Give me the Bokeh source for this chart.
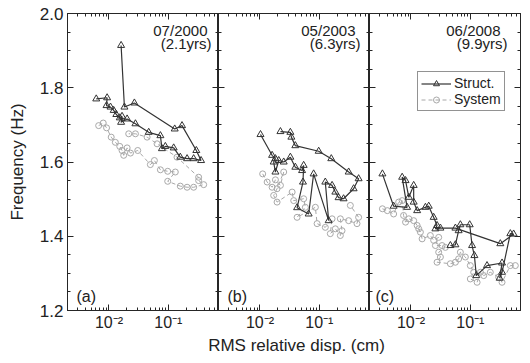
from bokeh.plotting import figure
from bokeh.layouts import row, column
from bokeh.models import (LogAxis, LinearAxis, FixedTicker, Label, Legend,
                          LegendItem, Range1d, PrintfTickFormatter,
                          CustomJSTickFormatter)
from bokeh.embed import file_html
from bokeh.resources import INLINE

# ---------------- data ----------------
# (a) 07/2000
struct_a_disp = [0.0160, 0.0182, 0.0268, 0.128, 0.170, 0.296, 0.356, 0.267, 0.207, 0.159,
                 0.123, 0.089, 0.078, 0.0735, 0.0467, 0.0279, 0.0202, 0.0160, 0.0166, 0.0152,
                 0.0133, 0.0120, 0.0106, 0.0091, 0.0093, 0.0061]
struct_a_freq = [1.914, 1.748, 1.759, 1.689, 1.698, 1.631, 1.604, 1.609, 1.609, 1.613,
                 1.638, 1.642, 1.636, 1.671, 1.680, 1.703, 1.716, 1.707, 1.723, 1.719,
                 1.728, 1.739, 1.748, 1.752, 1.773, 1.770]
system_a_disp = [0.0067, 0.0080, 0.0091, 0.0109, 0.0128, 0.0152, 0.0166, 0.0177, 0.0202, 0.0230,
                 0.0305, 0.0498, 0.0582, 0.0735, 0.0975, 0.131, 0.0975, 0.159, 0.207, 0.267,
                 0.394, 0.324, 0.324, 0.140, 0.0646, 0.0439, 0.0279, 0.0215]
system_a_freq = [1.698, 1.705, 1.692, 1.667, 1.653, 1.642, 1.631, 1.618, 1.638, 1.624,
                 1.631, 1.593, 1.604, 1.579, 1.575, 1.573, 1.548, 1.535, 1.532, 1.532,
                 1.539, 1.550, 1.559, 1.613, 1.649, 1.667, 1.676, 1.676]

# (b) 05/2003
struct_b_disp = [0.0102, 0.0160, 0.0182, 0.0170, 0.0182, 0.0207, 0.0251, 0.0325, 0.0394, 0.0512,
                 0.0544, 0.0530, 0.0422, 0.0661, 0.0801, 0.1435, 0.126, 0.164, 0.186, 0.211,
                 0.256, 0.378, 0.459, 0.312, 0.159, 0.0975, 0.0394, 0.0338, 0.0325, 0.0221]
struct_b_freq = [1.674, 1.618, 1.609, 1.600, 1.573, 1.604, 1.600, 1.613, 1.586, 1.577,
                 1.591, 1.546, 1.477, 1.460, 1.568, 1.442, 1.546, 1.537, 1.519, 1.504,
                 1.501, 1.528, 1.555, 1.573, 1.609, 1.629, 1.644, 1.667, 1.680, 1.682]
system_b_disp = [0.0111, 0.0132, 0.0160, 0.0182, 0.0221, 0.0251, 0.0194, 0.0170, 0.0194, 0.0348,
                 0.0370, 0.0544, 0.0582, 0.0422, 0.0857, 0.0917, 0.126, 0.164, 0.153, 0.186,
                 0.226, 0.241, 0.226, 0.312, 0.431, 0.459, 0.333]
system_b_freq = [1.568, 1.546, 1.532, 1.552, 1.537, 1.573, 1.528, 1.510, 1.492, 1.519,
                 1.496, 1.501, 1.478, 1.451, 1.478, 1.434, 1.424, 1.447, 1.407, 1.420,
                 1.402, 1.415, 1.447, 1.442, 1.434, 1.451, 1.483]

# (c) 06/2008
struct_c_disp = [0.0461, 0.0560, 0.0635, 0.0679, 0.0975, 0.107, 0.117, 0.126, 0.191, 0.342,
                 0.312, 0.342, 0.472, 0.536, 0.320, 0.0560, 0.0313, 0.0258, 0.0275, 0.0241,
                 0.0199, 0.0175, 0.0127, 0.0111, 0.0111, 0.0092, 0.0081, 0.0071, 0.0086, 0.0051,
                 0.0033]
struct_c_freq = [1.375, 1.377, 1.415, 1.431, 1.431, 1.375, 1.348, 1.294, 1.321, 1.328,
                 1.287, 1.303, 1.407, 1.406, 1.380, 1.422, 1.422, 1.420, 1.429, 1.451,
                 1.481, 1.478, 1.469, 1.492, 1.537, 1.505, 1.550, 1.559, 1.478, 1.481,
                 1.568]
system_c_disp = [0.0033, 0.0040, 0.0051, 0.0062, 0.0071, 0.0075, 0.0081, 0.0092, 0.0111, 0.0127,
                 0.0135, 0.0144, 0.0154, 0.0212, 0.0241, 0.0293, 0.0258, 0.0334, 0.0379, 0.0293,
                 0.0313, 0.0275, 0.0461, 0.0560, 0.0635, 0.0679, 0.0824, 0.100, 0.114, 0.100,
                 0.130, 0.148, 0.168, 0.217, 0.300, 0.342, 0.472, 0.573]
system_c_freq = [1.474, 1.469, 1.460, 1.492, 1.496, 1.456, 1.438, 1.447, 1.442, 1.429,
                 1.420, 1.411, 1.393, 1.402, 1.389, 1.397, 1.375, 1.375, 1.370, 1.357,
                 1.344, 1.330, 1.326, 1.330, 1.339, 1.357, 1.344, 1.321, 1.303, 1.285,
                 1.276, 1.303, 1.294, 1.303, 1.290, 1.276, 1.321, 1.321]

panel_dates = ["07/2000", "05/2003", "06/2008"]
panel_ages = ["(2.1yrs)", "(6.3yrs)", "(9.9yrs)"]
panel_tags = ["(a)", "(b)", "(c)"]

series_names = ["Struct.", "System"]
x_label = "RMS relative disp. (cm)"
y_label = "Frequency (Hz)"

x_tick_values = [0.01, 0.1]
x_tick_labels = ["10⁻²", "10⁻¹"]
x_minor_ticks = [m * 10.0 ** e for e in (-3, -2, -1) for m in range(2, 10)]
y_tick_values = [1.2, 1.4, 1.6, 1.8, 2.0]
y_minor_ticks = [1.25, 1.3, 1.35, 1.45, 1.5, 1.55, 1.65, 1.7, 1.75, 1.85, 1.9, 1.95]

# ---------------- style ----------------
FONT = "Liberation Sans"
AX = "#262626"
STRUCT_COLOR = "#333333"
SYSTEM_COLOR = "#a8a8a8"


def x_ticker():
    return FixedTicker(ticks=x_tick_values, minor_ticks=x_minor_ticks)


def y_ticker():
    return FixedTicker(ticks=y_tick_values, minor_ticks=y_minor_ticks)


def blank_fmt():
    return CustomJSTickFormatter(code="return '';")


def style_axis(ax, show_labels, size="16px"):
    ax.axis_line_color = AX
    ax.axis_line_width = 1
    ax.major_tick_line_color = AX
    ax.minor_tick_line_color = AX
    ax.major_tick_in = 6
    ax.major_tick_out = 0
    ax.minor_tick_in = 3
    ax.minor_tick_out = 0
    ax.major_label_text_font = FONT
    ax.major_label_text_color = "#222222"
    ax.axis_label_text_font = FONT
    ax.axis_label_text_font_style = "normal"
    ax.axis_label_text_font_size = "17px"
    ax.axis_label_text_color = "#222222"
    if show_labels:
        ax.major_label_text_font_size = size
    else:
        ax.formatter = blank_fmt()
        ax.major_label_text_font_size = "1px"
        ax.major_label_text_alpha = 0
        ax.major_label_standoff = 0


def x_fmt():
    return CustomJSTickFormatter(args=dict(vals=x_tick_values, labs=x_tick_labels), code="""
for (let i = 0; i < vals.length; i++) {
  if (Math.abs(Math.log10(tick) - Math.log10(vals[i])) < 1e-6) { return labs[i]; }
}
return "";
""")


# text placement (frame-relative screen px)
date_right = [140, 137, 131]
age_right = [144, 142, 138]
tag_left = [9, 9, 6]


def make_panel(i, sx, sy, yx, yy):
    p = figure(frame_width=151, frame_height=297, x_axis_type="log",
               x_range=Range1d(0.002, 0.7), y_range=Range1d(1.2, 2.0),
               output_backend="svg", toolbar_location=None,
               min_border_top=13, min_border_bottom=23,
               min_border_left=67 if i == 0 else 0,
               min_border_right=10 if i == 2 else 0,
               background_fill_color="white", border_fill_color="white")
    p.xgrid.visible = False
    p.ygrid.visible = False
    p.outline_line_color = AX

    xb = p.xaxis[0]
    xb.ticker = x_ticker()
    style_axis(xb, True, "16px")
    xb.formatter = x_fmt()
    xb.major_label_standoff = 3

    yl = p.yaxis[0]
    yl.ticker = y_ticker()
    if i == 0:
        style_axis(yl, True, "17px")
        yl.formatter = PrintfTickFormatter(format="%.1f")
        yl.major_label_standoff = 4
        yl.axis_label = y_label
        yl.axis_label_standoff = 10
    else:
        style_axis(yl, False)

    top = LogAxis(ticker=x_ticker())
    style_axis(top, False)
    p.add_layout(top, "above")
    right = LinearAxis(ticker=y_ticker())
    style_axis(right, False)
    p.add_layout(right, "right")

    l2 = p.line(yx, yy, line_color=SYSTEM_COLOR, line_width=1, line_dash="4 3")
    s2 = p.scatter(yx, yy, marker="circle", size=6, line_color=SYSTEM_COLOR,
                   fill_color=None, line_width=1)
    l1 = p.line(sx, sy, line_color=STRUCT_COLOR, line_width=1.2)
    s1 = p.scatter(sx, sy, marker="triangle", size=7, line_color=STRUCT_COLOR,
                   fill_color=None, line_width=1)

    p.add_layout(Label(x=date_right[i], y=289, x_units="screen", y_units="screen",
                       text=panel_dates[i], text_align="right", text_baseline="top",
                       text_font=FONT, text_font_size="15px", text_color="#222222"))
    p.add_layout(Label(x=age_right[i], y=276, x_units="screen", y_units="screen",
                       text=panel_ages[i], text_align="right", text_baseline="top",
                       text_font=FONT, text_font_size="15px", text_color="#222222"))
    p.add_layout(Label(x=tag_left[i], y=6, x_units="screen", y_units="screen",
                       text=panel_tags[i], text_align="left", text_baseline="bottom",
                       text_font=FONT, text_font_size="16px", text_color="#222222"))

    if i == 2:
        legend = Legend(items=[LegendItem(label=series_names[0], renderers=[l1, s1]),
                               LegendItem(label=series_names[1], renderers=[l2, s2])],
                        location=(48, 199))
        legend.label_text_font = FONT
        legend.label_text_font_size = "14px"
        legend.label_text_color = "#222222"
        legend.glyph_width = 30
        legend.glyph_height = 15
        legend.label_height = 15
        legend.label_standoff = 3
        legend.padding = 3
        legend.spacing = 0
        legend.margin = 0
        legend.border_line_color = AX
        legend.border_line_width = 1
        legend.background_fill_alpha = 1
        p.add_layout(legend)
    return p


pa = make_panel(0, struct_a_disp, struct_a_freq, system_a_disp, system_a_freq)
pb = make_panel(1, struct_b_disp, struct_b_freq, system_b_disp, system_b_freq)
pc = make_panel(2, struct_c_disp, struct_c_freq, system_c_disp, system_c_freq)

# shared x-axis title underneath the three panels
lab = figure(width=530, height=30, x_range=Range1d(0, 1), y_range=Range1d(0, 1),
             output_backend="svg", toolbar_location=None, min_border=0,
             outline_line_color=None, background_fill_color="white",
             border_fill_color="white")
lab.axis.visible = False
lab.grid.visible = False
lab.add_layout(Label(x=296, y=18, x_units="screen", y_units="screen", text=x_label,
                     text_align="center", text_baseline="middle", text_font=FONT,
                     text_font_size="17px", text_color="#222222"))

layout = column(row(pa, pb, pc, spacing=0), lab, spacing=0)
open("out.html", "w").write(file_html(layout, INLINE))
